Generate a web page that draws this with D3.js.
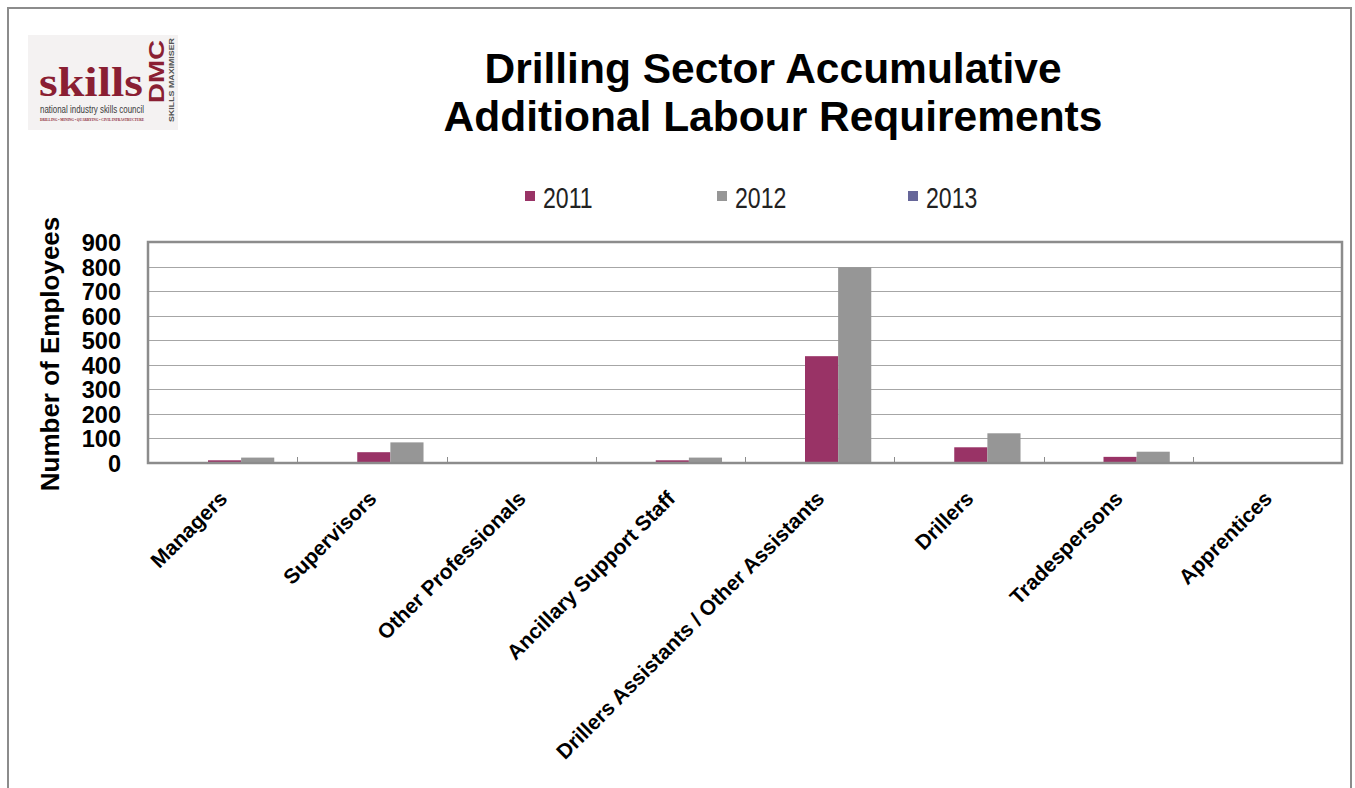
<!DOCTYPE html>
<html>
<head>
<meta charset="utf-8">
<script src="https://cdn.jsdelivr.net/npm/d3@7"></script>
<style>
  html, body { margin: 0; padding: 0; background: #fff; }
  svg { display: block; font-family: "Liberation Sans", Arial, sans-serif; }
</style>
</head>
<body>
<svg id="chart" width="1355" height="788"></svg>
<script>
// Occupational categories on the x axis
const categories = [
  "Managers",
  "Supervisors",
  "Other Professionals",
  "Ancillary Support Staff",
  "Drillers Assistants / Other Assistants",
  "Drillers",
  "Tradespersons",
  "Apprentices"
];

// Series: accumulative additional labour by year
const years = ["2011", "2012", "2013"];
const values2011 = [11, 44, 1, 11, 435, 64, 25, 1];
const values2012 = [22, 84, 1, 22, 797, 121, 46, 1];
const values2013 = [0, 0, 0, 0, 0, 0, 0, 0];
const seriesColors = ["#993366", "#969696", "#666699"];

// Value axis ticks
const yTicks = [0, 100, 200, 300, 400, 500, 600, 700, 800, 900];

const svg = d3.select("#chart");

// Outer frame
svg.append("rect")
  .attr("x", 8).attr("y", 8)
  .attr("width", 1343).attr("height", 800)
  .attr("fill", "none")
  .attr("stroke", "#8c8c8c")
  .attr("stroke-width", 2);

// ---- Logo ----
const logo = svg.append("g");
logo.append("rect")
  .attr("x", 28).attr("y", 35).attr("width", 150).attr("height", 95)
  .attr("fill", "#f4f2f2");
logo.append("text")
  .attr("x", 39).attr("y", 96)
  .attr("font-family", "'Liberation Serif', 'DejaVu Serif', serif")
  .attr("font-weight", "bold")
  .attr("font-size", 42)
  .attr("fill", "#8a1f33")
  .attr("textLength", 104).attr("lengthAdjust", "spacingAndGlyphs")
  .text("skills");
logo.append("text")
  .attr("transform", "translate(164,103) rotate(-90)")
  .attr("font-weight", "bold")
  .attr("font-size", 22)
  .attr("fill", "#8a1f33")
  .attr("textLength", 63).attr("lengthAdjust", "spacingAndGlyphs")
  .text("DMC");
logo.append("text")
  .attr("transform", "translate(174,122) rotate(-90)")
  .attr("font-weight", "bold")
  .attr("font-size", 7.5)
  .attr("fill", "#555")
  .attr("textLength", 84).attr("lengthAdjust", "spacingAndGlyphs")
  .text("SKILLS MAXIMISER");
logo.append("text")
  .attr("x", 40).attr("y", 113)
  .attr("font-size", 10)
  .attr("fill", "#3a3a3a")
  .attr("textLength", 104).attr("lengthAdjust", "spacingAndGlyphs")
  .text("national industry skills council");
logo.append("text")
  .attr("x", 40).attr("y", 121)
  .attr("font-family", "'Liberation Serif', serif")
  .attr("font-weight", "bold")
  .attr("font-size", 5)
  .attr("fill", "#8a1f33")
  .attr("textLength", 104).attr("lengthAdjust", "spacingAndGlyphs")
  .text("DRILLING • MINING • QUARRYING • CIVIL INFRASTRUCTURE");

// ---- Title ----
const title = svg.append("text")
  .attr("text-anchor", "middle")
  .attr("font-weight", "bold")
  .attr("font-size", 42.5)
  .attr("fill", "#000");
title.append("tspan").attr("x", 773).attr("y", 83).text("Drilling Sector Accumulative");
title.append("tspan").attr("x", 773).attr("y", 131).text("Additional Labour Requirements");

// ---- Legend ----
const legendX = [525, 717, 908];
const legend = svg.append("g");
years.forEach((yr, i) => {
  legend.append("rect")
    .attr("x", legendX[i]).attr("y", 191)
    .attr("width", 10).attr("height", 10)
    .attr("fill", seriesColors[i]);
  legend.append("text")
    .attr("transform", `translate(${legendX[i] + 18},208) scale(1.05,1.3)`)
    .attr("font-size", 22)
    .attr("fill", "#222")
    .text(yr);
});

// ---- Plot area ----
const plot = { left: 148, right: 1342, top: 242, bottom: 463 };

const x0 = d3.scaleBand()
  .domain(categories)
  .range([plot.left, plot.right])
  .paddingInner(0).paddingOuter(0);

const bw = x0.bandwidth();
const x1 = d3.scaleBand()
  .domain(years)
  .range([bw * 0.402, bw * 0.402 + 3 * bw * 0.222]);

const y = d3.scaleLinear()
  .domain([0, 900])
  .range([plot.bottom, plot.top]);

// Gridlines
svg.append("g")
  .selectAll("line")
  .data(yTicks.slice(1, -1))
  .join("line")
  .attr("x1", plot.left).attr("x2", plot.right)
  .attr("y1", d => Math.round(y(d)) + 0.5)
  .attr("y2", d => Math.round(y(d)) + 0.5)
  .attr("stroke", "#a6a6a6")
  .attr("stroke-width", 1);

// Bars
const seriesData = [values2011, values2012, values2013];
const barsG = svg.append("g");
categories.forEach((cat, ci) => {
  years.forEach((yr, si) => {
    const v = seriesData[si][ci];
    if (v <= 0) return;
    barsG.append("rect")
      .attr("x", x0(cat) + x1(yr))
      .attr("y", y(v))
      .attr("width", x1.bandwidth())
      .attr("height", y(0) - y(v))
      .attr("fill", seriesColors[si]);
  });
});

// Plot border
svg.append("rect")
  .attr("x", plot.left).attr("y", plot.top)
  .attr("width", plot.right - plot.left)
  .attr("height", plot.bottom - plot.top)
  .attr("fill", "none")
  .attr("stroke", "#8c8c8c")
  .attr("stroke-width", 2.5);

// Category boundary ticks (inside, along the bottom)
svg.append("g")
  .selectAll("line")
  .data(categories.slice(1))
  .join("line")
  .attr("x1", d => Math.round(x0(d)) + 0.5)
  .attr("x2", d => Math.round(x0(d)) + 0.5)
  .attr("y1", plot.bottom)
  .attr("y2", plot.bottom - 6)
  .attr("stroke", "#8c8c8c")
  .attr("stroke-width", 1);

// Y axis labels
const yAxis = d3.axisLeft(y).tickValues(yTicks).tickSize(0).tickPadding(0);
const yAxisG = svg.append("g")
  .attr("transform", `translate(${plot.left - 27},0)`)
  .call(yAxis);
yAxisG.select(".domain").remove();
yAxisG.selectAll("text")
  .attr("font-family", "'Liberation Sans', Arial, sans-serif")
  .attr("font-size", 23.5)
  .attr("font-weight", "bold")
  .attr("fill", "#000")
  .attr("dy", "0.36em");

// X axis labels (rotated)
const xAxis = d3.axisBottom(x0).tickSize(0).tickPadding(0);
const xAxisG = svg.append("g")
  .attr("transform", `translate(0,${plot.bottom})`)
  .call(xAxis);
xAxisG.select(".domain").remove();
xAxisG.selectAll("text")
  .attr("font-family", "'Liberation Sans', Arial, sans-serif")
  .attr("font-size", 21)
  .attr("font-weight", "bold")
  .attr("fill", "#000")
  .attr("text-anchor", "end")
  .attr("dy", 0)
  .attr("y", 0)
  .attr("transform", "translate(6,37) rotate(-45)");

// Y axis title
svg.append("text")
  .attr("transform", "translate(59,354) rotate(-90)")
  .attr("text-anchor", "middle")
  .attr("font-weight", "bold")
  .attr("font-size", 26)
  .attr("fill", "#000")
  .text("Number of Employees");
</script>
</body>
</html>
